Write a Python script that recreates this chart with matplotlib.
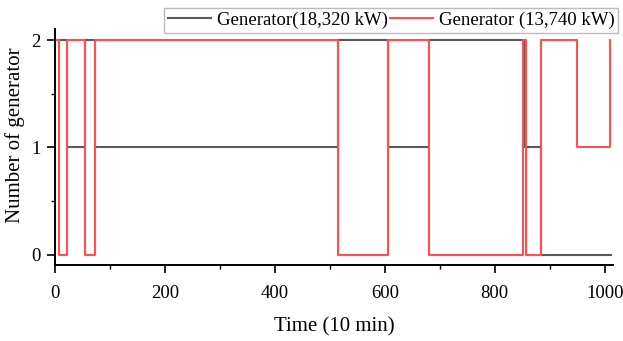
import matplotlib.pyplot as plt
import numpy as np

plt.rcParams['font.family'] = ['Liberation Serif', 'DejaVu Serif']

# change points (time step, 10 min) and number of running generators
gray_t = [1, 22, 54, 73, 515, 605, 681, 853, 884, 1011]
gray_v = [2, 1, 2, 1, 2, 1, 2, 1, 0, 0]

red_t = [1, 8, 22, 54, 73, 515, 605, 681, 852, 856, 884, 949, 1009, 1010]
red_v = [2, 0, 2, 0, 2, 0, 2, 0, 2, 0, 2, 1, 2, 2]

fig = plt.figure(figsize=(6.23, 3.41), dpi=100)
ax = fig.add_axes([0.088, 0.222, 0.896, 0.692])

ax.plot(gray_t, gray_v, drawstyle='steps-post', color='#5a5a5a', lw=1.5,
        label='Generator(18,320 kW)')
ax.plot(red_t, red_v, drawstyle='steps-post', color='#ff4f4f', lw=1.5,
        label='Generator (13,740 kW)')

ax.set_xlim(0, 1015)
ax.set_ylim(-0.1, 2.1)
ax.set_xticks([0, 200, 400, 600, 800, 1000])
ax.set_xticks(np.arange(100, 1001, 200), minor=True)
ax.set_yticks([0, 1, 2])
ax.set_yticks([0.5, 1.5], minor=True)
ax.tick_params(which='major', direction='out', length=6, width=1.2,
               labelsize=13.5, pad=4)
ax.tick_params(axis='x', which='major', pad=8)
ax.tick_params(which='minor', direction='out', length=3, width=1.0)

for s in ['top', 'right']:
    ax.spines[s].set_visible(False)
for s in ['left', 'bottom']:
    ax.spines[s].set_linewidth(1.4)

ax.set_xlabel('Time (10 min)', fontsize=15, labelpad=11)
ax.set_ylabel('Number of generator', fontsize=15, labelpad=5)
ax.yaxis.label.set_y(0.552)

leg = ax.legend(loc='upper right', ncol=2, bbox_to_anchor=(0.992, 0.977),
                bbox_transform=fig.transFigure,
                fontsize=13.5, frameon=True, fancybox=False, edgecolor='#aaaaaa',
                handlelength=2.3, columnspacing=0.1, handletextpad=0.3,
                borderpad=0.2, borderaxespad=0)
leg.get_frame().set_linewidth(1.0)

fig.savefig('out.png', dpi=100)
